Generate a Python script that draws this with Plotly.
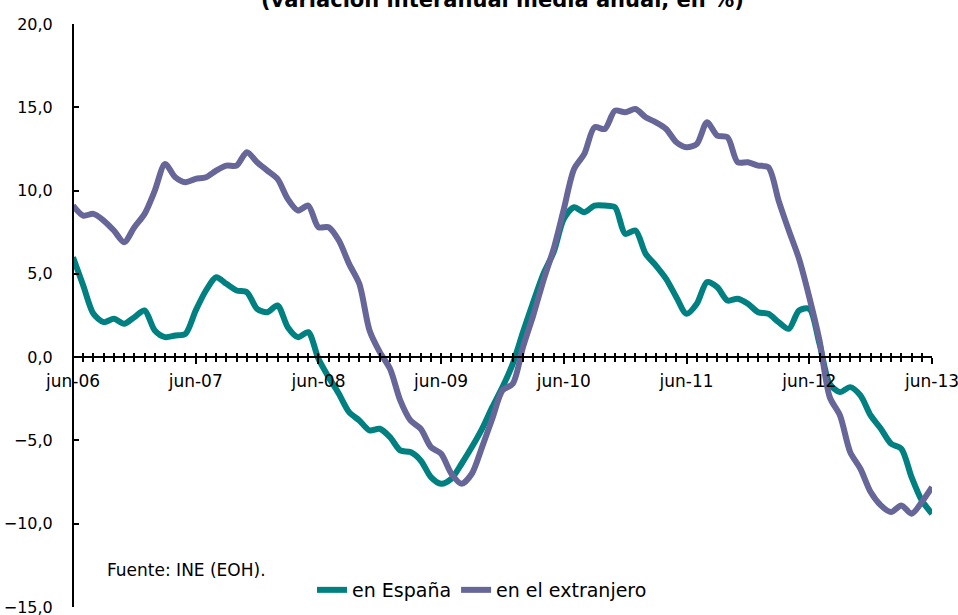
import plotly.graph_objects as go

months = list(range(85))  # jun-06 .. jun-13, monthly
tick_pos = [0, 12, 24, 36, 48, 60, 72, 84]
tick_labels = ["jun-06", "jun-07", "jun-08", "jun-09", "jun-10", "jun-11", "jun-12", "jun-13"]

espana = [6.0, 4.3, 2.6, 2.1, 2.3, 2.0, 2.4, 2.8, 1.6, 1.2, 1.3, 1.4,
          2.8, 4.0, 4.8, 4.4, 4.0, 3.9, 2.9, 2.7, 3.1, 1.8, 1.2, 1.5,
          -0.1, -1.2, -2.2, -3.3, -3.8, -4.4, -4.3, -4.8, -5.6, -5.7, -6.2, -7.2,
          -7.6, -7.3, -6.4, -5.4, -4.3, -3.0, -1.8, -0.4, 1.5, 3.3, 5.0, 6.3,
          8.3, 9.0, 8.7, 9.1, 9.1, 9.0, 7.4, 7.6, 6.2, 5.5, 4.7, 3.6,
          2.6, 3.2, 4.5, 4.2, 3.4, 3.5, 3.2, 2.7, 2.6, 2.1, 1.7, 2.8,
          2.9, 0.8, -1.6, -2.1, -1.8, -2.3, -3.5, -4.3, -5.2, -5.5, -7.2, -8.6,
          -9.4]

extranjero = [9.1, 8.5, 8.6, 8.2, 7.6, 6.9, 7.8, 8.6, 10.0, 11.6, 10.8, 10.5,
              10.7, 10.8, 11.2, 11.5, 11.5, 12.3, 11.7, 11.2, 10.7, 9.5, 8.8, 9.1,
              7.8, 7.8, 7.0, 5.6, 4.4, 1.6, 0.3, -0.7, -2.6, -3.8, -4.3, -5.4,
              -5.8, -7.0, -7.6, -7.0, -5.4, -3.7, -2.0, -1.6, 0.6, 2.5, 4.6, 6.5,
              8.9, 11.3, 12.2, 13.8, 13.7, 14.8, 14.7, 14.9, 14.4, 14.1, 13.7, 12.9,
              12.6, 12.8, 14.1, 13.3, 13.2, 11.7, 11.7, 11.5, 11.4, 9.4, 7.6, 5.9,
              3.6, 1.0, -2.4, -3.5, -5.7, -6.7, -8.1, -8.9, -9.3, -8.9, -9.4, -8.7,
              -7.8]

FONT = "DejaVu Sans"
TEAL = "#008080"
PURPLE = "#666699"

fig = go.Figure()
fig.add_trace(go.Scatter(x=months, y=espana, name="en España", mode="lines",
                         line=dict(color=TEAL, width=6, shape="spline", smoothing=0.8)))
fig.add_trace(go.Scatter(x=months, y=extranjero, name="en el extranjero", mode="lines",
                         line=dict(color=PURPLE, width=6, shape="spline", smoothing=0.8)))
# overlay axis for the upward half of the crossing ticks
fig.add_trace(go.Scatter(x=[0], y=[None], xaxis="x2", showlegend=False, hoverinfo="skip"))

zero_pos = 15 / 35

fig.update_layout(
    width=958, height=615,
    margin=dict(l=73, r=26, t=24, b=8, autoexpand=False),
    plot_bgcolor="white", paper_bgcolor="white",
    separators=",.",
    font=dict(family=FONT, size=16, color="black"),
    showlegend=True,
    legend=dict(orientation="h", x=(312 - 73) / 859, y=(607 - 590) / 583,
                xanchor="left", yanchor="middle",
                font=dict(family=FONT, size=19), bgcolor="rgba(0,0,0,0)",
                tracegroupgap=0),
    xaxis=dict(range=[0, 84], anchor="free", position=zero_pos, automargin=False,
               tickvals=tick_pos, ticktext=tick_labels,
               showline=True, linecolor="black", linewidth=2,
               ticks="outside", ticklen=6, tickwidth=2, tickcolor="black",
               minor=dict(dtick=1, ticks="outside", ticklen=4, tickwidth=1.5, tickcolor="black"),
               ticklabelstandoff=2, ticklabeloverflow="allow",
               showgrid=False, zeroline=False,
               tickfont=dict(family=FONT, size=17)),
    xaxis2=dict(range=[0, 84], overlaying="x", anchor="free", position=zero_pos, automargin=False,
                tickvals=tick_pos, showticklabels=False,
                showline=False, ticks="inside", ticklen=4, tickwidth=2, tickcolor="black",
                minor=dict(dtick=1, ticks="inside", ticklen=4, tickwidth=1.5, tickcolor="black"),
                showgrid=False, zeroline=False),
    yaxis=dict(range=[-15, 20], dtick=5, tick0=0, tickformat=".1f",
               anchor="free", position=0, automargin=False,
               showline=True, linecolor="black", linewidth=2,
               ticks="inside", ticklen=5, tickwidth=2, tickcolor="black",
               showgrid=False, zeroline=False,
               ticklabelstandoff=16, ticklabeloverflow="allow",
               tickfont=dict(family=FONT, size=16)),
    annotations=[
        dict(text="<b>(variación interanual media anual, en %)</b>", x=0.5, xref="paper",
             y=607 / 583, yref="paper", xanchor="center", yanchor="middle",
             showarrow=False, font=dict(family=FONT, size=21)),
        dict(text="Fuente: INE (EOH).", x=(105 - 73) / 859, xref="paper",
             y=(607 - 570) / 583, yref="paper", xanchor="left", yanchor="middle",
             showarrow=False, font=dict(family=FONT, size=17)),
    ],
)

fig.write_html("out.html", config={"displayModeBar": False},
               post_script="document.body.style.margin='0';document.body.style.overflow='hidden';")
